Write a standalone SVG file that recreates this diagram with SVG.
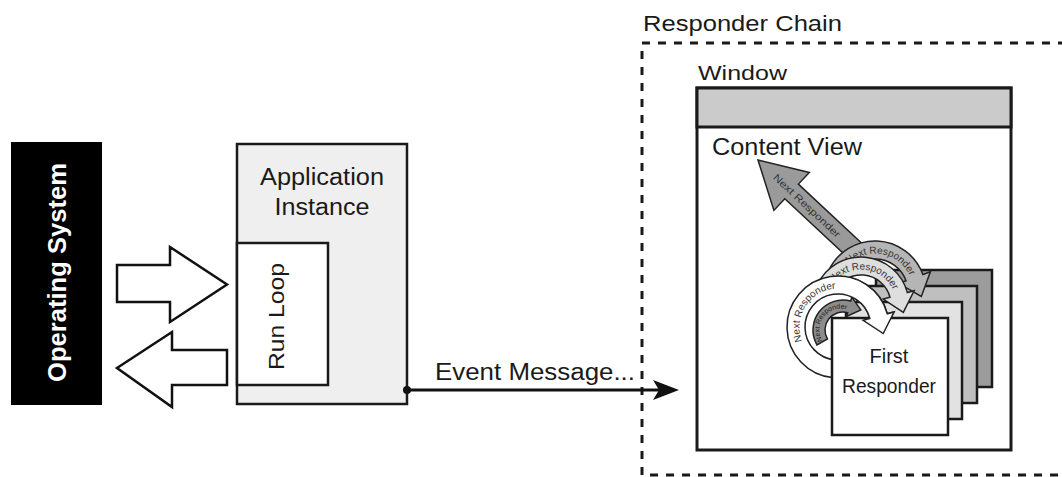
<svg xmlns="http://www.w3.org/2000/svg" width="1062" height="477" viewBox="0 0 1062 477">
  <style>
    text { font-family: "Liberation Sans", Arial, Helvetica, sans-serif; fill: #1a1a1a; }
    .box { stroke: #1a1a1a; stroke-width: 2.5; }
    .page { stroke: #1a1a1a; stroke-width: 2.5; }
    .hollow { fill: #ffffff; stroke: #111111; stroke-width: 2.5; stroke-linejoin: miter; }
    .ring { stroke: #222222; stroke-width: 1.5; stroke-linejoin: miter; }
    .ringtxt { font-size: 10px; fill: #333333; }
    .label { font-size: 23px; }
  </style>
  <defs>
    <!-- baselines for the labels that run along the curved arrows -->
    <path id="arc-white-text" d="M806.46,349.08 A38.5,38.5 0 0 1 844.69,289.09"/>
    <path id="arc-light-text" d="M828.83,290 A35.5,35.5 0 0 1 893.17,290"/>
    <path id="arc-mid-text" d="M840.11,275.73 A38.5,38.5 0 0 1 909.89,275.73"/>
    <path id="arc-inner-text" d="M822.2,340 A21,21 0 0 1 846,309.3"/>
    <!-- the front arrow's head sits over the first responder page -->
    <clipPath id="head-clip">
      <rect x="850" y="250" width="150" height="120"/>
    </clipPath>
    <path id="arc-white" d="M833.55,377.81 A51,51 0 1 1 887.26,313.80 L894.02,311.99 L883.23,333.52 L863.11,320.27 L869.88,318.46 A33,33 0 1 0 835.12,359.87 Z"/>
  </defs>

  <rect x="0" y="0" width="1062" height="477" fill="#ffffff"/>

  <!-- operating system -->
  <g id="operating-system">
    <rect x="11" y="142" width="91" height="263" fill="#000000"/>
    <text transform="translate(66,272.5) rotate(-90)" text-anchor="middle" font-size="25" font-weight="bold" textLength="219" lengthAdjust="spacingAndGlyphs" style="fill:#ffffff">Operating System</text>
  </g>

  <!-- application instance with its run loop -->
  <g id="application-instance">
    <rect class="box" x="237" y="144" width="170" height="260" fill="#efefef"/>
    <text class="label" x="322" y="185" text-anchor="middle" textLength="124" lengthAdjust="spacingAndGlyphs">Application</text>
    <text class="label" x="322" y="215" text-anchor="middle" textLength="95" lengthAdjust="spacingAndGlyphs">Instance</text>
  </g>
  <g id="run-loop">
    <rect class="box" x="237" y="243" width="91" height="142" fill="#ffffff"/>
    <text transform="translate(284,316.5) rotate(-90)" text-anchor="middle" font-size="22" textLength="107" lengthAdjust="spacingAndGlyphs">Run Loop</text>
  </g>

  <!-- responder chain frame -->
  <g id="responder-chain">
    <rect x="642" y="43" width="440" height="432" fill="none" stroke="#1a1a1a" stroke-width="3" stroke-dasharray="8 8"/>
    <text x="643" y="31" font-size="22" textLength="199" lengthAdjust="spacingAndGlyphs">Responder Chain</text>
  </g>

  <!-- window with title bar and content view -->
  <g id="window">
    <text x="698" y="80" font-size="21" textLength="89" lengthAdjust="spacingAndGlyphs">Window</text>
    <rect x="697" y="88" width="314" height="362" fill="#ffffff" stroke="#1a1a1a" stroke-width="3"/>
    <rect x="697" y="88" width="314" height="39" fill="#cbcbcb" stroke="#1a1a1a" stroke-width="3"/>
  </g>
  <g id="content-view">
    <text class="label" x="712" y="155" textLength="150" lengthAdjust="spacingAndGlyphs">Content View</text>
  </g>

  <!-- stacked responder views -->
  <g id="responder-4">
    <rect class="page" x="876" y="270" width="116" height="117" fill="#9c9c9c"/>
  </g>
  <g id="responder-3">
    <rect class="page" x="861" y="286" width="116" height="117" fill="#bfbfbf"/>
  </g>
  <g id="responder-2">
    <rect class="page" x="846" y="302" width="116" height="117" fill="#e2e2e2"/>
  </g>

  <!-- next responder arrows -->
  <g id="next-responder-arrows">
    <polygon class="ring" points="758,160 809.3,172.4 798.4,184.1 867.1,248.2 853.5,262.8 784.8,198.7 773.9,210.4" fill="#9a9a9a"/>
    <text class="ringtxt" transform="translate(807,205.7) rotate(43)" x="0" y="3.5" text-anchor="middle" textLength="88" lengthAdjust="spacingAndGlyphs">Next Responder</text>

    <path class="ring" fill="#b5b5b5" d="M828.78,270.45 A51,51 0 0 1 922.92,274.56 L930.44,271.82 L921.31,296.43 L898.49,283.45 L906.01,280.71 A33,33 0 0 0 845.09,278.05 Z"/>
    <text class="ringtxt"><textPath href="#arc-mid-text" startOffset="100%" text-anchor="end">Next Responder</textPath></text>

    <path class="ring" fill="#dedede" d="M817.50,284.71 A48,48 0 0 1 907.36,292.58 L914.13,290.76 L903.33,312.30 L883.22,299.05 L889.98,297.24 A30,30 0 0 0 833.81,292.32 Z"/>
    <text class="ringtxt"><textPath href="#arc-light-text" startOffset="100%" text-anchor="end">Next Responder</textPath></text>

    <path class="ring" fill="#8c8c8c" d="M817.02,345 A30,30 0 0 1 850.76,301.02 L851.80,297.16 L860.80,309.93 L846.62,316.48 L847.66,312.61 A18,18 0 0 0 827.41,339 Z"/>
    <text font-size="7" style="fill:#222"><textPath href="#arc-inner-text" startOffset="50%" text-anchor="middle">Next Responder</textPath></text>

    <use href="#arc-white" class="ring" fill="#ffffff"/>
    <text class="ringtxt"><textPath href="#arc-white-text" startOffset="50%" text-anchor="middle">Next Responder</textPath></text>
  </g>

  <g id="first-responder">
    <rect class="page" x="832" y="318" width="116" height="117" fill="#ffffff"/>
    <text x="889" y="363" text-anchor="middle" font-size="20">First</text>
    <text x="889" y="393" text-anchor="middle" font-size="20" textLength="94" lengthAdjust="spacingAndGlyphs">Responder</text>
  </g>

  <!-- head of the front arrow, drawn over the first responder -->
  <g id="next-responder-head">
    <use href="#arc-white" class="ring" fill="#ffffff" clip-path="url(#head-clip)"/>
  </g>

  <!-- connectors -->
  <g id="connectors">
    <polygon class="hollow" points="117,265 170,265 170,247 227,284.5 170,322 170,302 117,302"/>
    <polygon class="hollow" points="227,350 172,350 172,332 117,368 172,407 172,385 227,385"/>
    <line x1="407" y1="390" x2="662" y2="390" stroke="#111111" stroke-width="2.8"/>
    <polygon points="679,390 653,380 659,390 653,400" fill="#111111"/>
    <circle cx="407" cy="390" r="4" fill="#111111"/>
    <text class="label" x="435" y="380" textLength="200" lengthAdjust="spacingAndGlyphs">Event Message...</text>
  </g>
</svg>
